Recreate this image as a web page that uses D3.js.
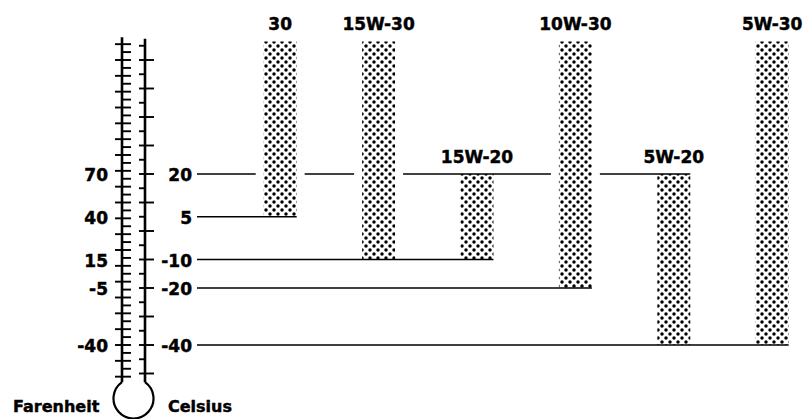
<!DOCTYPE html>
<html><head><meta charset="utf-8">
<script src="https://cdn.jsdelivr.net/npm/d3@7"></script>
<style>body{margin:0;background:#fff}svg{display:block}</style>
</head><body><svg id="c" width="810" height="419"></svg>
<script>
// ---- data ----
const grades = ["30", "15W-30", "15W-20", "10W-30", "5W-20", "5W-30"];
const lowC  = [5, -10, -10, -20, -40, -40];
const highC = [66.5, 66.5, 20, 66.5, 20, 66.5];
const celsiusLabels    = [20, 5, -10, -20, -40];
const fahrenheitLabels = [70, 40, 15, -5, -40];
const celsiusMajorTicks = [60, 50, 40, 30, 20, 10, 0, -10, -20, -30, -40, -50];
const celsiusMinorTicks = [65, 55, 45, 35, 25, 15, 5, -5, -15, -25, -35, -45];
const fahrenheitTicks = d3.range(150, -61, -5);
const axisTitles = ["Farenheit", "Celsius"];

// ---- scales ----
const svg = d3.select("#c");
const y = d3.scaleLinear().domain([-40, 20]).range([345, 174]);
const yF = d3.scaleLinear().domain([-40, 68]).range([y(-40), y(20)]);
const x = d3.scaleBand().domain(grades).range([231, 821.4]).paddingInner(0.665).paddingOuter(0.3325);
const bw = x.bandwidth();
const font = "'DejaVu Sans', Arial, sans-serif";

// pattern
const pat = svg.append("defs").append("pattern").attr("id", "dots")
  .attr("patternUnits", "userSpaceOnUse").attr("width", 8).attr("height", 8);
pat.append("circle").attr("cx", 2).attr("cy", 2).attr("r", 1.75).attr("fill", "#000");
pat.append("circle").attr("cx", 6).attr("cy", 6).attr("r", 1.75).attr("fill", "#000");

// ---- thermometer ----
const tL = 122, tR = 145, cx = (tL + tR) / 2, r = 20, cy = 398.5;
const dyJ = Math.sqrt(r * r - (cx - tL) * (cx - tL));
const th = svg.append("g").attr("stroke", "#000").attr("fill", "none");
th.append("line").attr("x1", tL).attr("x2", tL).attr("y1", y(68)).attr("y2", cy - dyJ).attr("stroke-width", 2.6);
th.append("line").attr("x1", tR).attr("x2", tR).attr("y1", y(67.5)).attr("y2", cy - dyJ).attr("stroke-width", 2.6);
const p = d3.path();
p.moveTo(tL, cy - dyJ);
p.arc(cx, cy, r, Math.atan2(-dyJ, tL - cx), Math.atan2(-dyJ, tR - cx), true);
th.append("path").attr("d", p.toString()).attr("stroke-width", 2.2);

th.selectAll(".ft").data(fahrenheitTicks).join("line")
  .attr("x1", d => d % 10 === 0 ? tL - 7 : tL).attr("x2", tL + 9)
  .attr("y1", d => yF(d)).attr("y2", d => yF(d)).attr("stroke-width", 1.9);
th.selectAll(".cM").data(celsiusMajorTicks).join("line")
  .attr("x1", tR - 6).attr("x2", tR + 9)
  .attr("y1", d => y(d)).attr("y2", d => y(d)).attr("stroke-width", 1.9);
th.selectAll(".cm").data(celsiusMinorTicks).join("line")
  .attr("x1", tR - 6).attr("x2", tR)
  .attr("y1", d => y(d)).attr("y2", d => y(d)).attr("stroke-width", 1.9);

// labels
const lab = svg.append("g").attr("font-family", font).attr("font-weight", "bold").attr("font-size", 17)
  .attr("fill", "#000").attr("stroke", "#000").attr("stroke-width", 0.45);
lab.selectAll(".cl").data(celsiusLabels).join("text")
  .attr("x", 192).attr("y", d => y(d) + 1).attr("dy", "0.36em").attr("text-anchor", "end").text(d => d);
lab.selectAll(".fl").data(fahrenheitLabels).join("text")
  .attr("x", 108).attr("y", (d, i) => y(celsiusLabels[i]) + 1).attr("dy", "0.36em").attr("text-anchor", "end").text(d => d);
lab.append("text").attr("x", 13).attr("y", 412).attr("font-size", 16).text(axisTitles[0]);
lab.append("text").attr("x", 168).attr("y", 412).attr("font-size", 16).text(axisTitles[1]);

// ---- level lines ----
const lineStart = 197, gap = 8;
const bars = grades.map((g, i) => ({ g, lo: lowC[i], hi: highC[i], x0: x(g), x1: x(g) + bw }));
const lg = svg.append("g").attr("stroke", "#000").attr("stroke-width", 1.6);
celsiusLabels.forEach(L => {
  const end = d3.max(bars.filter(b => b.lo === L || b.hi === L), b => b.x1);
  const crossing = bars.filter(b => b.lo < L && b.hi > L && b.x1 < end).sort((a, b) => a.x0 - b.x0);
  let s = lineStart;
  crossing.forEach(b => {
    lg.append("line").attr("x1", s).attr("x2", b.x0 - gap).attr("y1", y(L)).attr("y2", y(L));
    s = b.x1 + gap;
  });
  lg.append("line").attr("x1", s).attr("x2", end).attr("y1", y(L)).attr("y2", y(L));
});

// ---- bars ----
svg.append("g").selectAll("rect").data(bars).join("rect")
  .attr("x", d => d.x0).attr("width", bw)
  .attr("y", d => y(d.hi)).attr("height", d => y(d.lo) - y(d.hi))
  .attr("fill", "url(#dots)");
lab.selectAll(".bl").data(bars).join("text")
  .attr("x", d => d.x0 + bw / 2).attr("y", d => y(d.hi) - 11)
  .attr("text-anchor", "middle").text(d => d.g);
</script></body></html>
